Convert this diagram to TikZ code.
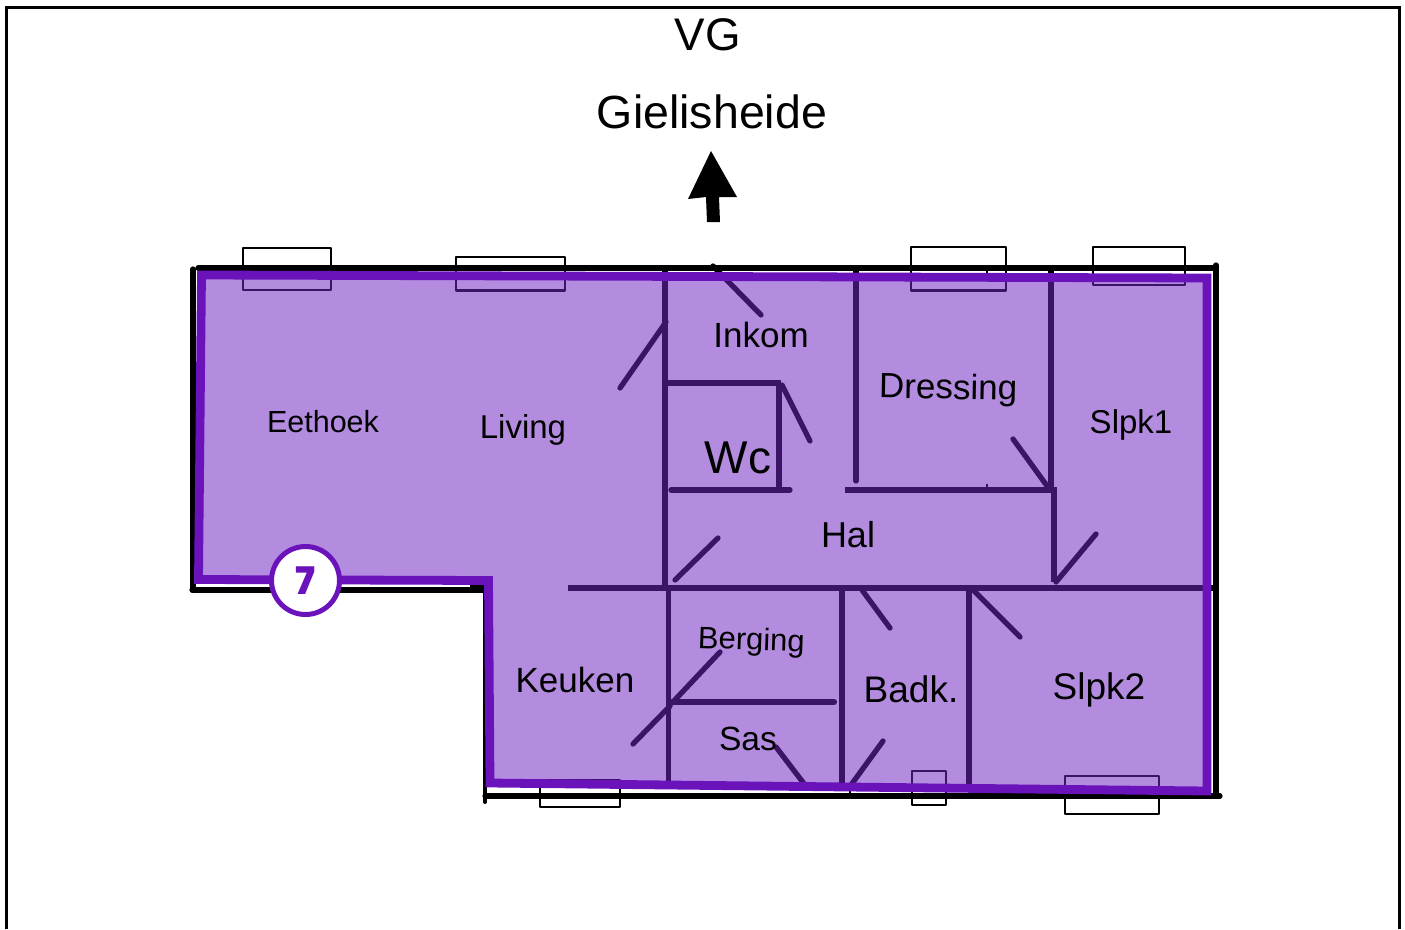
\documentclass[tikz,border=0pt]{standalone}
\usepackage{fontspec}
\setmainfont{Liberation Sans}
\newfontfamily\sevenfont{Poppins ExtraBold}
\definecolor{areafill}{RGB}{112,38,196}
\definecolor{edgepurple}{RGB}{106,19,187}
\newcommand{\fs}[1]{\fontsize{#1pt}{#1pt}\selectfont}
\tikzset{
  x=1pt,y=-1pt,
  plan/.style={black,line width=5.2pt,line cap=round},
  wall/.style={black,line width=5.3pt},
  door/.style={black,line width=5.3pt,line cap=round},
  win/.style={black,line width=2.4pt,line join=round},
  lab/.style={anchor=base,inner sep=0pt,text=black},
}
\begin{document}
\begin{tikzpicture}
\useasboundingbox (0,0) rectangle (1405,929);
\fill[white] (0,0) rectangle (1405,929);
% page frame
\draw[black,line width=3pt] (6.5,929) -- (6.5,7.5) -- (1399.5,7.5) -- (1399.5,929);
% windows
\draw[win] (243,248) rectangle (331,290);
\draw[win] (456,257) rectangle (565,290.5);
\draw[win] (911,247) rectangle (1006,290.5);
\draw[win] (1093,247) rectangle (1185,285);
\draw[win] (540,780) rectangle (620,807);
\draw[win] (912,771) rectangle (946,805);
\draw[win] (1065,776) rectangle (1159,814);
% outer walls
\draw[plan] (198,268) -- (1213,268);
\draw[plan] (193,269) -- (193,590);
\draw[plan] (192,590) -- (484,590);
\draw[plan,line width=6pt,line cap=butt] (470,588) -- (486,588);
\draw[plan,line width=4pt] (485,590) -- (485,802);
\draw[plan] (485,796) -- (1220,796);
\draw[plan] (1216,265) -- (1216,796);
% inner walls
\draw[wall] (665,265) -- (665,588);
\draw[wall] (668.5,588) -- (668.5,783);
\draw[wall] (568,588) -- (1213,588);
\draw[wall] (665,383) -- (781,383);
\draw[wall] (779,383) -- (779,490);
\draw[wall,line cap=round] (671,490) -- (790,490);
\draw[wall,line cap=round] (856,270) -- (856,481);
\draw[wall] (845,490) -- (1057,490);
\draw[wall] (1051,270) -- (1051,490);
\draw[wall] (1054,490) -- (1054,582);
\draw[wall] (842,588) -- (842,785);
\draw[wall] (969,588) -- (969,790);
\draw[wall,line width=6.2pt,line cap=round] (672,702) -- (834,702);
% small ticks
\draw[wall,line width=2.5pt] (987,484) -- (987,490);
\draw[wall,line width=2.5pt] (987,266) -- (987,274);
\draw[wall,line width=2.5pt] (850,785) -- (850,796);
% doors
\draw[door] (666,322) -- (620,388);
\draw[door] (713,266) -- (761,315);
\draw[door] (782,385) -- (810,441);
\draw[door] (1013,439) -- (1050,490);
\draw[door] (1056,582) -- (1096,534);
\draw[door] (675,580) -- (718,538);
\draw[door] (672,703) -- (720,652);
\draw[door] (670,706) -- (633,744);
\draw[door] (776,747) -- (805,785);
\draw[door] (851,785) -- (883,741);
\draw[door] (862,590) -- (890,628);
\draw[door] (973,590) -- (1020,637);
% highlighted area
\fill[areafill,fill opacity=.53] (201.5,275) -- (1207,278) -- (1207,791) -- (490,783) -- (488.5,580.5) -- (198.5,579.5) -- cycle;
\draw[edgepurple,line width=8.8pt,line join=miter] (201.5,275) -- (1207,278) -- (1207,791) -- (490,783) -- (488.5,580.5) -- (198.5,579.5) -- cycle;
% north arrow
\fill[black] (711,151) -- (737,197) -- (719,197) -- (720,222) -- (707,222) -- (706,197) -- (688,199) -- cycle;
% texts
\node[lab,font=\fs{45.7}] (vg) at (708,50) {VG};
\node[lab,font=\fs{46.5}] (street) at (712,128) {Gielisheide};
\node[lab,font=\fs{30.5}] (eethoek) at (323,432) {Eethoek};
\node[lab,font=\fs{33}] (living) at (523,438) {Living};
\node[lab,font=\fs{35}] (inkom) at (761,347) {Inkom};
\node[lab,font=\fs{35},rotate=-1] (dressing) at (948,399) {Dressing};
\node[lab,font=\fs{33}] (slpk1) at (1131,433) {Slpk1};
\node[lab,font=\fs{46}] (wc) at (738,473) {Wc};
\node[lab,font=\fs{36}] (hal) at (848,547) {Hal};
\node[lab,font=\fs{31},rotate=-2] (berging) at (751,650) {Berging};
\node[lab,font=\fs{35}] (keuken) at (575,692) {Keuken};
\node[lab,font=\fs{33.6}] (sas) at (748,750) {Sas};
\node[lab,font=\fs{37}] (badk) at (911,702) {Badk.};
\node[lab,font=\fs{37}] (slpk2) at (1099,699) {Slpk2};
% badge
\node[circle,draw=edgepurple,fill=white,line width=5pt,minimum size=68pt,inner sep=0pt,text=edgepurple,font=\sevenfont\fs{38}] (badge) at (305.5,580.5) {7};
\end{tikzpicture}
\end{document}
